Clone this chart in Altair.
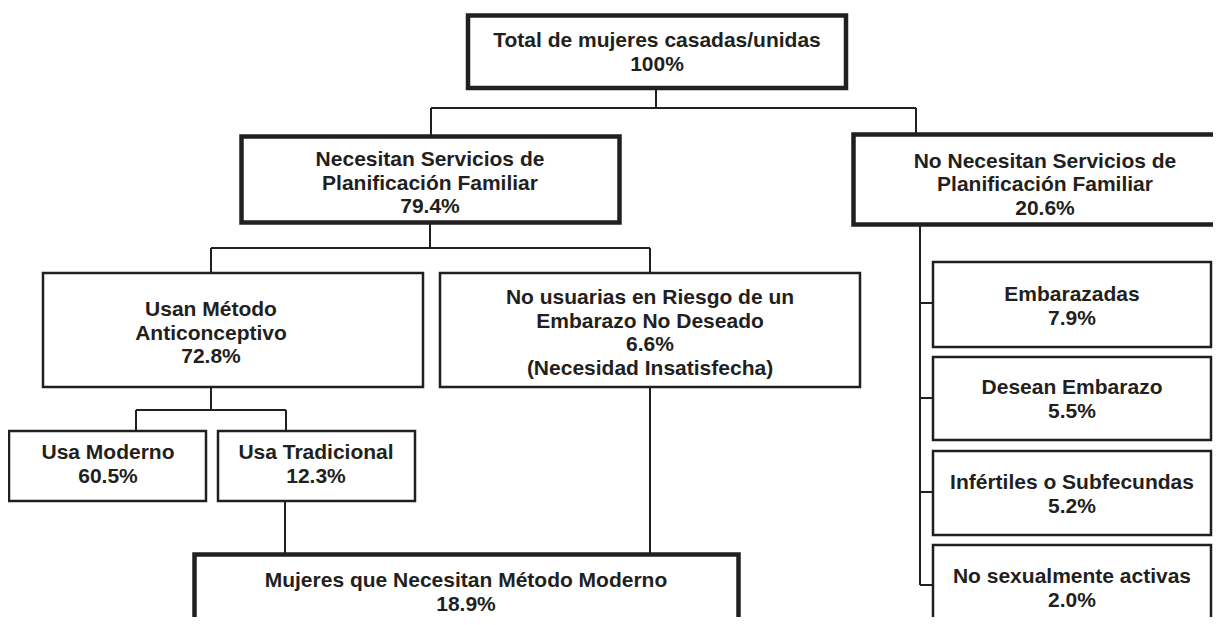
import altair as alt
import pandas as pd

# ---- content ----
node_ids = ["total", "necesitan", "no_necesitan", "usan", "no_usuarias",
            "moderno", "tradicional", "mujeres",
            "embarazadas", "desean", "infertiles", "no_sex"]
node_titles = [
    "Total de mujeres casadas/unidas",
    "Necesitan Servicios de\nPlanificación Familiar",
    "No Necesitan Servicios de\nPlanificación Familiar",
    "Usan Método\nAnticonceptivo",
    "No usuarias en Riesgo de un\nEmbarazo No Deseado",
    "Usa Moderno",
    "Usa Tradicional",
    "Mujeres que Necesitan Método Moderno",
    "Embarazadas",
    "Desean Embarazo",
    "Infértiles o Subfecundas",
    "No sexualmente activas",
]
node_pct = [100, 79.4, 20.6, 72.8, 6.6, 60.5, 12.3, 18.9, 7.9, 5.5, 5.2, 2.0]
node_notes = ["", "", "", "", "(Necesidad Insatisfecha)", "", "", "", "", "", "", ""]

# ---- diagram layout (reference pixel space) ----
box_x0 = [470, 243.5, 855.5, 45, 442, 11, 220, 196.5, 935, 935, 935, 935]
box_x1 = [848, 621.5, 1240, 425, 862, 208, 417, 740.5, 1213, 1213, 1213, 1213]
box_y0 = [15.5, 136.5, 134.5, 273, 273, 431, 431, 554.5, 262, 357, 451, 545]
box_y1 = [88, 222.5, 224.5, 387, 387, 501, 501, 660, 347, 440, 535, 660]
box_sw = [4.5, 4.5, 4.5, 2.5, 2.5, 2.5, 2.5, 4.5, 2.5, 2.5, 2.5, 2.5]
text_x = [659, 432, 1047, 213, 652, 110, 318, 468, 1074, 1074, 1074, 1074]
# centre of the first text line of each box
text_y = [41, 160, 161.5, 310, 298, 453, 453, 581, 295, 388, 483, 577]

# connectors: (x0, y0, x1, y1)
conn_x0 = [658, 433, 433, 918, 432, 213, 213, 652, 213, 138, 138, 288, 287, 652, 922, 922, 922, 922, 922]
conn_y0 = [88, 108, 108, 108, 222, 248, 248, 248, 387, 410, 410, 410, 501, 387, 224, 303, 398, 492, 585]
conn_x1 = [658, 918, 433, 918, 432, 652, 213, 652, 213, 288, 138, 288, 287, 652, 922, 935, 935, 935, 935]
conn_y1 = [108, 108, 136, 134, 248, 248, 273, 273, 410, 410, 431, 431, 554, 554, 585, 303, 398, 492, 585]


def fmt(v):
    return f"{v:.0f}%" if v == 100 else f"{v:.1f}%"


labels = []
for t, p, n in zip(node_titles, node_pct, node_notes):
    s = t + "\n" + fmt(p)
    if n:
        s += "\n" + n
    labels.append(s)

boxes = pd.DataFrame({
    "id": node_ids, "x0": box_x0, "x1": box_x1, "y0": box_y0, "y1": box_y1,
    "sw": box_sw, "tx": text_x, "ty": text_y, "label": labels,
})
conns = pd.DataFrame({"x0": conn_x0, "y0": conn_y0, "x1": conn_x1, "y1": conn_y1})

INK = "#231f20"
xs = alt.Scale(domain=[10, 1215], nice=False, zero=False)
ys = alt.Scale(domain=[8, 617], nice=False, zero=False, reverse=True)

rules = alt.Chart(conns).mark_rule(color=INK, strokeWidth=2).encode(
    x=alt.X("x0:Q", scale=xs, axis=None),
    y=alt.Y("y0:Q", scale=ys, axis=None),
    x2="x1:Q",
    y2="y1:Q",
)

rects = alt.Chart(boxes).mark_rect(fill="white", stroke=INK).encode(
    x=alt.X("x0:Q", scale=xs, axis=None),
    y=alt.Y("y0:Q", scale=ys, axis=None),
    x2="x1:Q",
    y2="y1:Q",
    strokeWidth=alt.StrokeWidth("sw:Q", scale=None),
)

texts = alt.Chart(boxes).mark_text(
    font="Liberation Sans", fontWeight="bold", fontSize=21, lineBreak="\n",
    lineHeight=23.5, color=INK, align="center", baseline="middle",
).encode(
    x=alt.X("tx:Q", scale=xs, axis=None),
    y=alt.Y("ty:Q", scale=ys, axis=None),
    text="label:N",
)

chart = alt.layer(rules, rects, texts).properties(
    width=1205, height=609, padding=0, autosize="none", background="white",
).configure_view(stroke=None)

chart.save("out.html", embed_options={"renderer": "svg", "actions": False})
